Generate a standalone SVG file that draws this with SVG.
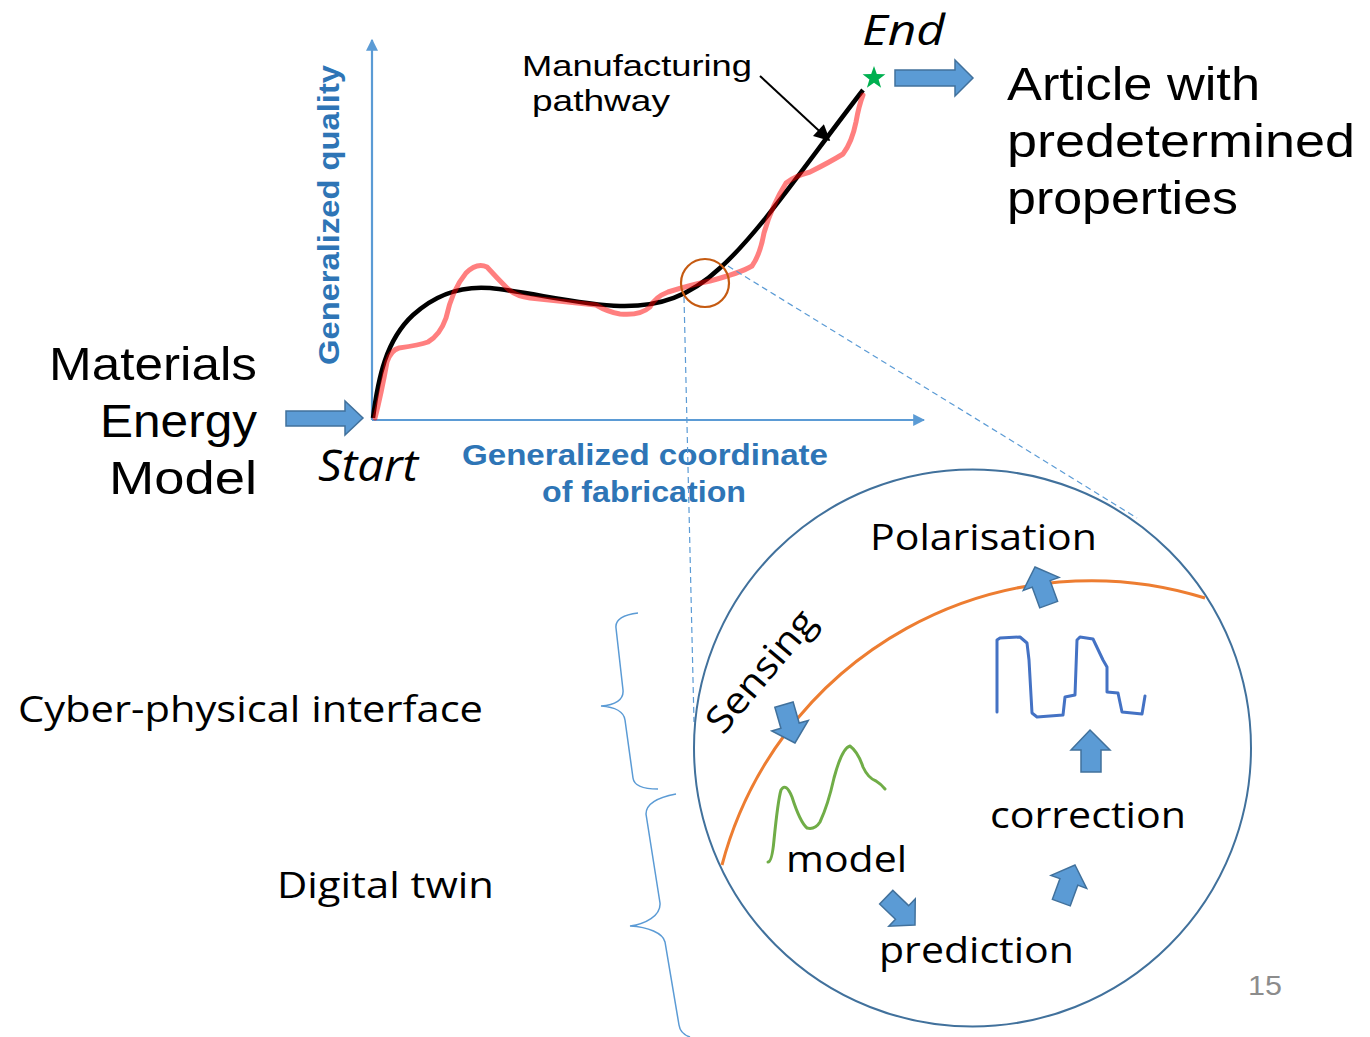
<svg xmlns="http://www.w3.org/2000/svg" width="1370" height="1037" viewBox="0 0 1370 1037">
<style>
.cg{font-family:"Liberation Sans","DejaVu Sans",sans-serif;fill:#000}
.cal{font-family:"Open Sans","Noto Sans",sans-serif;fill:#000}
.ax{font-family:"Liberation Sans",Arial,sans-serif;font-weight:bold;fill:#2E75B6;font-size:29px}
.barrow{fill:#5B9BD5;stroke:#41719C;stroke-width:1.5}
.dash{fill:none;stroke:#5B9BD5;stroke-width:1.2;stroke-dasharray:6 4}
.brace{fill:none;stroke:#5B9BD5;stroke-width:1.5}
.axis{stroke:#5B9BD5;stroke-width:2.2;fill:none}
</style>
<defs>
<marker id="ah" markerWidth="12" markerHeight="12" refX="9" refY="5" orient="auto" markerUnits="userSpaceOnUse" viewBox="0 0 10 10">
<path d="M0,0 L10,5 L0,10 Z" fill="#5B9BD5"/>
</marker>
<marker id="bk" viewBox="0 0 10 10" refX="9" refY="5" markerWidth="18" markerHeight="16" orient="auto" markerUnits="userSpaceOnUse">
<path d="M0,0 L10,5 L0,10 Z" fill="#000"/>
</marker>
<path id="uparrow" d="M0,0 L19,18 L9.5,18 L9.5,40 L-9.5,40 L-9.5,18 L-19,18 Z"/>
</defs>

<g id="axes">
<line class="axis" x1="372" y1="420" x2="372" y2="40" marker-end="url(#ah)"/>
<line class="axis" x1="372" y1="420" x2="924" y2="420" marker-end="url(#ah)"/>
<text class="ax" transform="translate(339,365) rotate(-90)" textLength="300" lengthAdjust="spacingAndGlyphs">Generalized quality</text>
<text class="ax" x="462" y="465" textLength="366" lengthAdjust="spacingAndGlyphs">Generalized coordinate</text>
<text class="ax" x="542" y="502" textLength="204" lengthAdjust="spacingAndGlyphs">of fabrication</text>
</g>

<g id="curves">
<path d="M373,418 C378,378 386,340 413,315 C438,292 465,286 490,288 C530,292 580,305 620,306 C660,307 690,296 720,268 C760,232 805,165 863,90" fill="none" stroke="#000" stroke-width="4.5"/>
<path d="M375,418 Q381,395 387,362 Q391,350 399,348 Q420,345 428,342 Q440,335 446,318 Q452,290 466,273 Q477,262 487,267 Q497,278 507,288 Q515,296 530,298 L596,305 Q608,312 620,314 Q640,316 650,307 Q655,297 668,292 Q690,285 710,281 Q740,273 752,266 Q760,255 764,233 Q772,205 786,183 Q795,176 810,172 Q830,162 843,154 Q852,142 856,122 Q859,105 863,95" fill="none" stroke="#FF0000" stroke-opacity="0.5" stroke-width="5" stroke-linejoin="round" stroke-linecap="round"/>
</g>

<g id="connectors">
<line x1="760" y1="76" x2="829" y2="140" stroke="#000" stroke-width="2" marker-end="url(#bk)"/>
<line class="dash" x1="684" y1="297" x2="694" y2="722"/>
<line class="dash" x1="728" y1="266" x2="1137" y2="518"/>
<path class="barrow" d="M286,411 H345 V401 L363,418 L345,435 V426 H286 Z"/>
<path class="barrow" d="M895,70 H955 V60 L973,78 L955,96 V86 H895 Z"/>
</g>

<g id="zoom-circle">
<circle cx="705" cy="283" r="24" fill="none" stroke="#C55A11" stroke-width="2.2"/>
</g>

<g id="start-end">
<text class="cg" x="257" y="380" font-size="46" text-anchor="end" textLength="208" lengthAdjust="spacingAndGlyphs">Materials</text>
<text class="cg" x="257" y="437" font-size="46" text-anchor="end" textLength="157" lengthAdjust="spacingAndGlyphs">Energy</text>
<text class="cg" x="257" y="494" font-size="46" text-anchor="end" textLength="148" lengthAdjust="spacingAndGlyphs">Model</text>
<text class="cal" x="318" y="481" font-size="44" font-style="italic" textLength="100" lengthAdjust="spacingAndGlyphs">Start</text>
<text class="cal" x="862" y="45" font-size="42" font-style="italic" textLength="83" lengthAdjust="spacingAndGlyphs">End</text>
<polygon points="874,66 876.8,74.1 885.4,74.3 878.6,79.5 881.1,87.7 874,82.8 866.9,87.7 869.4,79.5 862.6,74.3 871.2,74.1" fill="#00B050"/>
<text class="cg" x="1007" y="100" font-size="47" textLength="253" lengthAdjust="spacingAndGlyphs">Article with</text>
<text class="cg" x="1007" y="157" font-size="47" textLength="348" lengthAdjust="spacingAndGlyphs">predetermined</text>
<text class="cg" x="1007" y="214" font-size="47" textLength="231" lengthAdjust="spacingAndGlyphs">properties</text>
<text class="cg" x="522" y="76" font-size="29" textLength="230" lengthAdjust="spacingAndGlyphs">Manufacturing</text>
<text class="cg" x="532" y="111" font-size="29" textLength="138" lengthAdjust="spacingAndGlyphs">pathway</text>
</g>

<g id="twin">
<circle cx="972.5" cy="748" r="278.5" fill="none" stroke="#41719C" stroke-width="2"/>
<path d="M722,865 A382,382 0 0 1 1205,598" fill="none" stroke="#ED7D31" stroke-width="3"/>
<use href="#uparrow" class="barrow" transform="translate(1035,567) rotate(-20)"/>
<use href="#uparrow" class="barrow" transform="translate(795,743) rotate(164)"/>
<path class="barrow" d="M1090,730 L1110,750 L1101,750 L1101,772 L1081,772 L1081,750 L1071,750 Z"/>
<use href="#uparrow" class="barrow" transform="translate(915,925) rotate(134)"/>
<use href="#uparrow" class="barrow" transform="translate(1075,865) rotate(20)"/>
<polyline points="997,712 997,640 1000,638 1020,637 1027,643 1029,660 1032,713 1037,717 1063,715 1065,697 1075,695 1077,640 1080,637 1093,639 1103,660 1107,667 1107,692 1118,693 1122,712 1142,714 1145,696" fill="none" stroke="#4472C4" stroke-width="3" stroke-linejoin="round" stroke-linecap="round"/>
<path d="M768,862 Q772,862 774,840 Q778,800 781,790 Q786,782 792,797 Q800,822 807,828 Q815,830 820,822 Q828,805 834,778 Q842,748 850,746 Q858,752 863,767 Q868,778 876,781 Q881,784 885,789" fill="none" stroke="#70AD47" stroke-width="3" stroke-linejoin="round" stroke-linecap="round"/>
<text class="cal" x="870" y="550" font-size="37" textLength="227" lengthAdjust="spacingAndGlyphs">Polarisation</text>
<text class="cal" font-size="37" transform="translate(723,736) rotate(-50)" textLength="148" lengthAdjust="spacingAndGlyphs">Sensing</text>
<text class="cal" x="990" y="828" font-size="37" textLength="196" lengthAdjust="spacingAndGlyphs">correction</text>
<text class="cal" x="786" y="872" font-size="37" textLength="121" lengthAdjust="spacingAndGlyphs">model</text>
<text class="cal" x="879" y="963" font-size="37" textLength="195" lengthAdjust="spacingAndGlyphs">prediction</text>
</g>

<g id="braces">
<path class="brace" d="M638,613 C622,615 615,620 616,628 L623,690 C624,700 615,705 601,706 C615,707 624,712 625,720 L633,778 C634,786 645,789 658,789"/>
<path class="brace" d="M676,794 C660,797 646,803 646,814 L660,903 C661,916 645,924 630,926 C648,927 663,933 665,942 L679,1025 C680,1032 684,1035 690,1037"/>
<text class="cal" x="18" y="722" font-size="37" textLength="465" lengthAdjust="spacingAndGlyphs">Cyber-physical interface</text>
<text class="cal" x="277" y="898" font-size="37" textLength="217" lengthAdjust="spacingAndGlyphs">Digital twin</text>
</g>

<text x="1248" y="995" font-family="Liberation Sans, sans-serif" font-size="28" fill="#8C8C8C" textLength="34" lengthAdjust="spacingAndGlyphs">15</text>
</svg>
